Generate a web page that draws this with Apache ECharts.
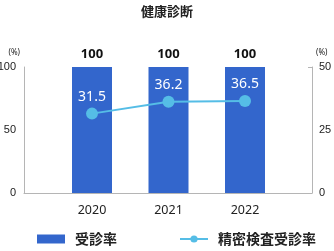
<!DOCTYPE html>
<html><head><meta charset="utf-8">
<script src="https://cdn.jsdelivr.net/npm/echarts@6/dist/echarts.min.js"></script>
<style>html,body{margin:0;padding:0;background:#fff}#c{width:334px;height:251px}</style>
</head><body><div id="c"></div>
<script>
const title = '健康診断';
const years = ['2020', '2021', '2022'];
const examRate = [100, 100, 100];
const detailRate = [31.5, 36.2, 36.5];
const leftTicks = [0, 50, 100];
const rightTicks = [0, 25, 50];
const seriesNames = ['受診率', '精密検査受診率'];

const chart = echarts.init(document.getElementById('c'));
const numFont = '"Noto Sans", "Open Sans", sans-serif';
const narrowFont = '"Liberation Sans Narrow", "Arial Narrow", sans-serif';
const jpFont = '"Noto Sans CJK JP", sans-serif';
const axisGray = '#b5b5b5';
const gridBox = {top: 67, bottom: 58, outerBoundsMode: 'none', containLabel: false};
chart.setOption({
  animation: false,
  title: {text: title, left: 'center', top: 0,
    textStyle: {fontFamily: jpFont, fontSize: 13, fontWeight: 'bold', color: '#222'}},
  legend: {
    bottom: 5, left: 37, padding: 0, itemGap: 62, itemWidth: 28, itemHeight: 9,
    textStyle: {fontFamily: jpFont, fontSize: 14, fontWeight: 'bold', color: '#222', padding: [0, 0, 0, 5]},
    data: [{name: seriesNames[0], icon: 'rect'}, {name: seriesNames[1]}]
  },
  grid: [
    Object.assign({left: 24, right: 22}, gridBox),
    Object.assign({left: 53.75, right: 50.75}, gridBox)
  ],
  xAxis: [
    {gridIndex: 0, type: 'category', data: years, axisLine: {lineStyle: {color: axisGray}},
      axisTick: {show: false}, axisLabel: {show: false}},
    {gridIndex: 1, type: 'category', data: years, axisLine: {show: false},
      axisTick: {show: false},
      axisLabel: {fontFamily: numFont, fontSize: 12.5, color: '#222', margin: 11}}
  ],
  yAxis: [
    {gridIndex: 0, type: 'value', min: leftTicks[0], max: leftTicks[2], interval: 50,
      name: '(%)', nameGap: 10, nameTextStyle: {fontSize: 8, color: '#222', align: 'right', padding: [0, 4, 0, 0], fontFamily: numFont},
      axisLine: {show: true, lineStyle: {color: axisGray}}, axisTick: {show: false},
      splitLine: {show: false},
      axisLabel: {fontFamily: narrowFont, fontSize: 11, color: '#222', margin: 8}},
    {gridIndex: 0, type: 'value', position: 'right', min: rightTicks[0], max: rightTicks[2], interval: 25,
      name: '(%)', nameGap: 10, nameTextStyle: {fontSize: 8, color: '#222', align: 'left', padding: [0, 0, 0, 4], fontFamily: numFont},
      axisLine: {show: true, lineStyle: {color: axisGray}}, axisTick: {show: false},
      splitLine: {show: false},
      axisLabel: {fontFamily: narrowFont, fontSize: 11, color: '#222', margin: 7}},
    {gridIndex: 1, type: 'value', min: 0, max: 100, show: false},
    {gridIndex: 1, type: 'value', min: 0, max: 50, show: false},
    {gridIndex: 0, type: 'value', min: 0, max: 100, interval: 100, axisLabel: {show: false},
      axisLine: {show: false}, splitLine: {show: false},
      axisTick: {show: true, inside: true, length: 4, lineStyle: {color: axisGray}}},
    {gridIndex: 0, type: 'value', position: 'right', min: 0, max: 50, interval: 50, axisLabel: {show: false},
      axisLine: {show: false}, splitLine: {show: false},
      axisTick: {show: true, inside: true, length: 4, lineStyle: {color: axisGray}}}
  ],
  series: [
    {name: seriesNames[0], type: 'bar', xAxisIndex: 1, yAxisIndex: 2, data: examRate,
      barWidth: 40, itemStyle: {color: '#3366cc'},
      label: {show: true, position: 'top', distance: 6, fontFamily: numFont, fontSize: 13,
        fontWeight: 'bold', color: '#111'}},
    {name: seriesNames[1], type: 'line', xAxisIndex: 1, yAxisIndex: 3, data: detailRate,
      symbol: 'circle', symbolSize: 12, z: 5,
      lineStyle: {color: '#55bde6', width: 2}, itemStyle: {color: '#55bde6'},
      label: {show: true, position: 'top', distance: 4, fontFamily: numFont, fontSize: 14, color: '#fff'}}
  ]
});
</script></body></html>
